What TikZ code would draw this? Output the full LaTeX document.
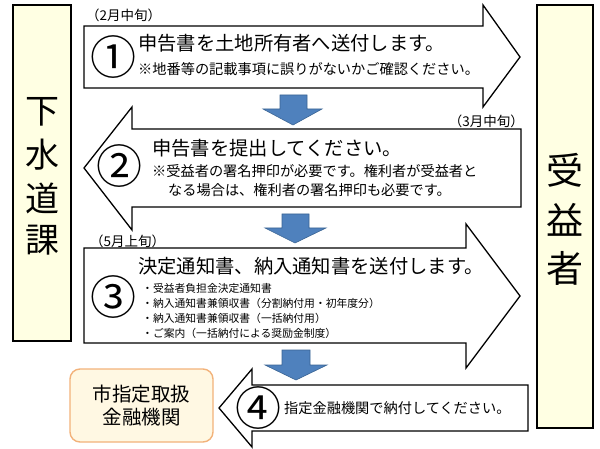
\documentclass[tikz,border=0pt]{standalone}
\usepackage{fontspec}
\setmainfont{Noto Sans CJK JP}
\definecolor{boxyellow}{HTML}{FFFFE3}
\definecolor{orangefill}{HTML}{FFF8E3}
\definecolor{orangeline}{HTML}{F2B27A}
\definecolor{bluefill}{HTML}{4F81BD}
\definecolor{blueline}{HTML}{3A6494}
\begin{document}
\begin{tikzpicture}[x=1pt,y=-1pt,
  bigarrow/.style={draw=black,line width=1.3pt,fill=white,line join=miter},
  downarrow/.style={draw=blueline,line width=0.6pt,fill=bluefill},
  sidebox/.style={draw=black,line width=1.3pt,fill=boxyellow},
  txt/.style={inner sep=0pt,anchor=west,text height=0.8em,text depth=0.12em},
  mainline/.style={txt,font=\fontsize{19.3}{21}\selectfont},
  subline/.style={txt,font=\fontsize{14.2}{16}\selectfont},
  smallline/.style={txt,font=\fontsize{10.8}{12}\selectfont},
  numlabel/.style={inner sep=0pt,font=\fontsize{46}{48}\selectfont},
  datelabel/.style={inner sep=0pt,font=\fontsize{13.5}{15}\selectfont},
  vchar/.style={inner sep=0pt,font=\fontsize{34}{36}\selectfont}]
\useasboundingbox (0,0) rectangle (600,449);
% side boxes
\draw[sidebox] (13,5) rectangle (71,341);
\draw[sidebox] (537,5) rectangle (593,428);
\node[vchar] (g1) at (42,112) {下};
\node[vchar] (g2) at (42,155) {水};
\node[vchar] (g3) at (42,198) {道};
\node[vchar] (g4) at (42,240) {課};
\node[vchar,font=\fontsize{37}{38}\selectfont] (j1) at (565,170) {受};
\node[vchar,font=\fontsize{37}{38}\selectfont] (j2) at (565,220) {益};
\node[vchar,font=\fontsize{37}{38}\selectfont] (j3) at (565,268) {者};
% big arrows
\draw[bigarrow] (84,26) -- (483,26) -- (483,5) -- (520,57) -- (483,107) -- (483,88) -- (84,88) -- cycle;
\draw[bigarrow] (521,129) -- (132,129) -- (132,107) -- (84,168) -- (132,230) -- (132,207) -- (521,207) -- cycle;
\draw[bigarrow] (84,248) -- (466,248) -- (466,224) -- (520,296) -- (466,368) -- (466,343) -- (84,343) -- cycle;
\draw[bigarrow] (528,385) -- (252,385) -- (252,369) -- (219,408) -- (252,447) -- (252,431) -- (528,431) -- cycle;
% blue down arrows
\draw[downarrow] (280,95) -- (307,95) -- (307,109) -- (322,109) -- (293,125) -- (263,109) -- (280,109) -- cycle;
\draw[downarrow] (282,214) -- (309,214) -- (309,228) -- (326,228) -- (295,243) -- (265,228) -- (282,228) -- cycle;
\draw[downarrow] (282,350) -- (310,350) -- (310,365) -- (327,365) -- (296,380) -- (265,365) -- (282,365) -- cycle;
% orange box
\node[draw=orangeline,line width=1.4pt,fill=orangefill,rounded corners=10pt,
  minimum width=143pt,minimum height=73pt,inner sep=0pt,align=center,
  font=\fontsize{19.5}{23}\selectfont] (bank) at (141.5,405.5) {市指定取扱\\金融機関};
% dates
\node[datelabel,anchor=west] (d1) at (86,15) {（2月中旬）};
\node[datelabel,anchor=east] (d2) at (524,121) {（3月中旬）};
\node[datelabel,anchor=west] (d3) at (90,241) {（5月上旬）};
% step 1
\node[numlabel] (n1) at (113,57) {①};
\node[mainline] (t1a) at (138,47) {申告書を土地所有者へ送付します。};
\node[subline] (t1b) at (138,71) {※地番等の記載事項に誤りがないかご確認ください。};
% step 2
\node[numlabel] (n2) at (119,166) {②};
\node[mainline] (t2a) at (152,152) {申告書を提出してください。};
\node[subline] (t2b) at (152,173) {※受益者の署名押印が必要です。権利者が受益者と};
\node[subline] (t2c) at (168,192) {なる場合は、権利者の署名押印も必要です。};
% step 3
\node[numlabel] (n3) at (113,297) {③};
\node[mainline] (t3a) at (138,270) {決定通知書、納入通知書を送付します。};
\node[smallline] (t3b) at (142,289) {・受益者負担金決定通知書};
\node[smallline] (t3c) at (142,304) {・納入通知書兼領収書（分割納付用・初年度分）};
\node[smallline] (t3d) at (142,319) {・納入通知書兼領収書（一括納付用）};
\node[smallline] (t3e) at (142,334) {・ご案内（一括納付による奨励金制度）};
% step 4
\node[numlabel] (n4) at (258,408) {④};
\node[subline] (t4) at (284,410) {指定金融機関で納付してください。};
\end{tikzpicture}
\end{document}
